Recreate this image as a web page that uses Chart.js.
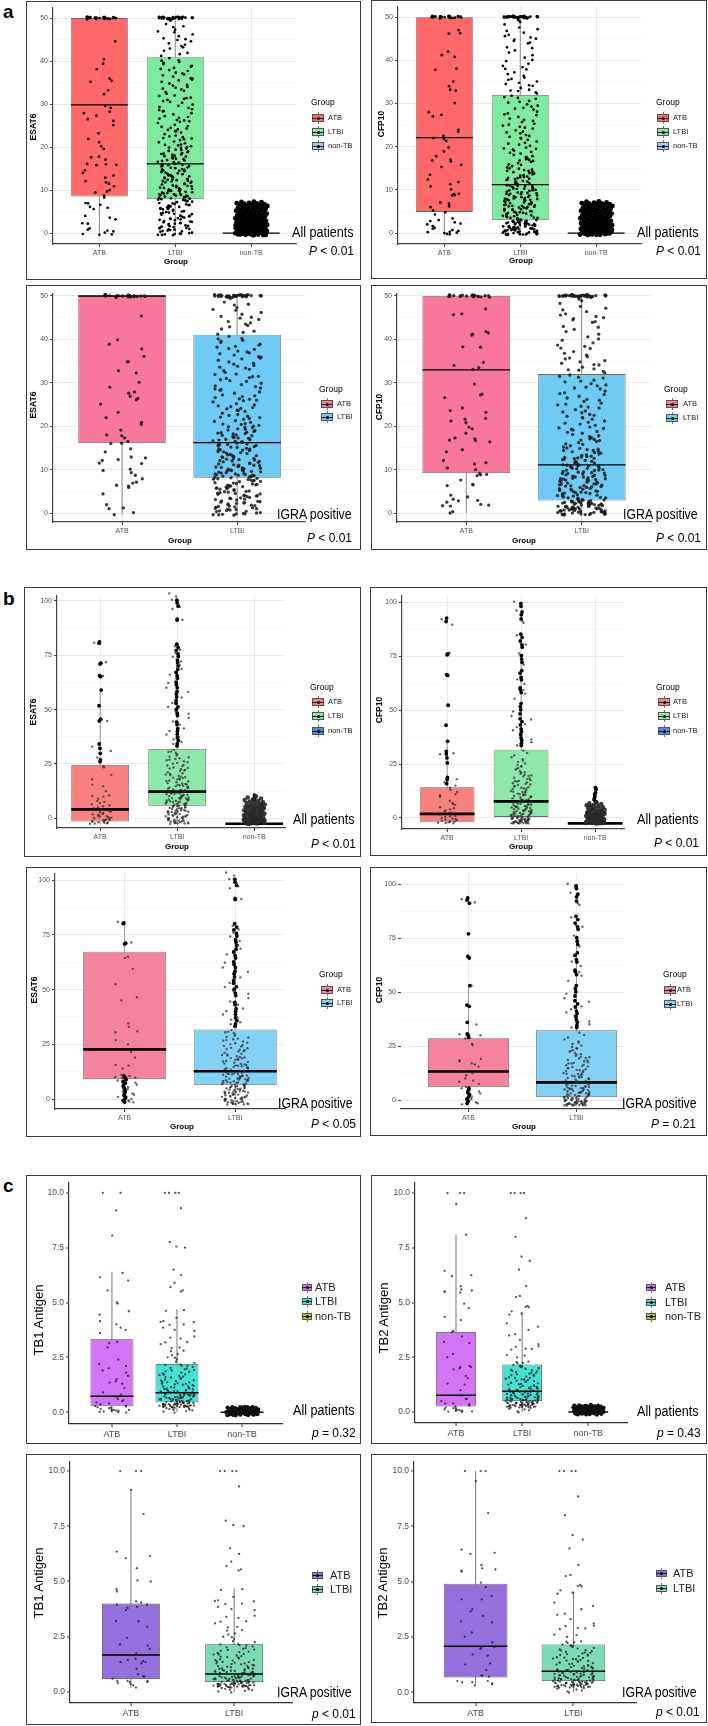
<!DOCTYPE html>
<html><head><meta charset="utf-8">
<script src="https://cdn.jsdelivr.net/npm/chart.js@4.4.1/dist/chart.umd.min.js"></script>
<style>
html,body{margin:0;padding:0;background:#fff;}
body{width:708px;height:1726px;position:relative;overflow:hidden;font-family:'Liberation Sans',Arial,sans-serif;}
.frame{position:absolute;border:1.5px solid #3c3c3c;box-sizing:border-box;pointer-events:none;}
canvas{position:absolute;}
.t{position:absolute;white-space:nowrap;line-height:1;color:#000;}
.key{position:absolute;}
</style></head><body>
<script>
// ---------------- categories & ticks ----------------
const CATS3 = ['ATB','LTBI','non-TB'];
const CATS2 = ['ATB','LTBI'];
const YA = [0,10,20,30,40,50], YAm = [5,15,25,35,45];
const YB = [0,25,50,75,100], YBm = [12.5,37.5,62.5,87.5];
const YC = [0,2.5,5,7.5,10], YCm = [];

// ---------------- box statistics (q1, median, q3, whisker low, whisker high) ----------------
const a1Q1=[8.5,7.9,0], a1Med=[29.8,16.1,0], a1Q3=[50,41,0], a1Lo=[-0.3,-0.4,0], a1Hi=[50,50,0];
const a2Q1=[4.9,3.0,0], a2Med=[22.1,11.2,0], a2Q3=[50,32,0], a2Lo=[-0.3,-0.4,0], a2Hi=[50,50,0];
const a3Q1=[16.1,8.1], a3Med=[50,16.2], a3Q3=[50,41.1], a3Lo=[-0.4,-0.5], a3Hi=[50,50];
const a4Q1=[9.2,2.9], a4Med=[33.0,11.1], a4Q3=[50,32.0], a4Lo=[0,-0.3], a4Hi=[50,50];
const b1Q1=[-1.5,5.8,-2.5], b1Med=[4.1,12.3,-2.5], b1Q3=[24.5,31.9,-2.5], b1Lo=[-2.5,-2.5,-2.5], b1Hi=[59,71,-2.5];
const b2Q1=[-2.0,0.5,-2.5], b2Med=[1.9,7.7,-2.5], b2Q3=[14.2,31.6,-2.5], b2Lo=[-2.5,-2.5,-2.5], b2Hi=[36,75,-2.5];
const b3Q1=[9.1,6.4], b3Med=[22.7,12.7], b3Q3=[67.3,31.8], b3Lo=[-1.5,-2.5], b3Hi=[80,71];
const b4Q1=[6.0,1.4], b4Med=[13.2,8.2], b4Q3=[28.6,32.3], b4Lo=[-2,-2.5], b4Hi=[53,75];
const c1Q1=[0.27,0.45,0], c1Med=[0.72,0.88,0], c1Q3=[3.33,2.2,0], c1Lo=[0,0,0], c1Hi=[6.4,4.7,0];
const c2Q1=[0.25,0.5,0], c2Med=[0.77,0.95,0], c2Q3=[3.66,2.17,0], c2Lo=[0,0,0], c2Hi=[8.1,4.52,0];
const c3Q1=[0.58,0.45], c3Med=[1.67,0.81], c3Q3=[4.0,2.16], c3Lo=[0.18,0], c3Hi=[9.15,4.7];
const c4Q1=[0.66,0.5], c4Med=[2.08,0.95], c4Q3=[4.9,2.16], c4Lo=[0.3,0], c4Hi=[10,4.55];

// ---------------- individual values (panel a, ESAT6 / CFP10) ----------------
const aEsatATBall=[50.2,49.9,50.1,50,49.8,50.3,50,50.1,49.9,50.2,50,49.7,50.1,50.2,49.9,50,50.3,49.8,50.1,50,49.9,50.2,50.1,49.8,50,50.2,44.6,40.4,39.4,38.1,35.9,35.4,35.2,33.2,32.3,29.6,29.1,28.2,27.9,27.3,26.5,26.1,25.1,23.2,21.9,21.1,20.2,19.6,17.8,17.6,17.1,16.1,16,15.9,15.8,14.6,14,13.4,12.9,12.1,11.8,11.5,10.9,10,9.7,9.4,8.7,8.3,7,6.9,6.6,6.1,5.9,5.6,4,3.6,3.2,2.3,2.2,1.1,0.8,0.6,0.4,0.1,-0.2,-0.3,-0.4];
const aEsatATBpos=[50.1,49.8,50.2,50,49.9,50.3,50,49.7,50.2,50.1,49.9,50,50.2,49.8,50.1,50,50.3,49.9,50.1,50,49.8,50.2,45.4,39.9,38.9,37.8,36.1,34.9,34.8,32.8,32.3,30.1,29,27.9,27.6,26.9,26.4,26.1,25.1,23.2,22,20.9,20.4,19.1,18,17.8,17.3,16.5,16.1,16,14.8,14.1,12.9,12.7,12.3,12.1,11.5,11.4,10.1,9.8,9.3,8.7,7.9,7.1,6.9,6.4,6.2,5.9,4.4,1.9,1.2,1,0.1,-0.4];
const aEsatLTBI=[50.3,50.0,49.8,50.2,50.1,49.9,50.0,50.3,49.7,50.1,50.2,49.9,50.0,49.8,50.2,50.1,50.0,49.9,50.3,50.1,49.8,50.0,50.2,49.9,50.1,50.0,49.7,50.2,50.1,49.9,50.0,50.3,49.8,50.1,50.0,50.2,
49.4,48.6,47.9,47.3,46.7,46.2,45.8,45.3,45.1,44.6,44.1,43.8,43.2,42.9,42.4,41.9,41.6,41.2,48.1,46.9,44.9,43.5,
40.7,40.2,39.8,39.3,38.9,38.4,38.2,37.7,37.3,36.9,36.4,36.0,35.7,35.2,34.8,34.5,34.0,33.6,33.1,32.8,32.4,31.9,31.5,31.2,30.7,30.3,29.9,29.6,29.1,28.8,28.3,27.9,27.6,27.2,26.8,26.3,26.0,25.6,25.2,24.9,24.5,24.1,23.7,23.4,23.0,22.7,22.3,22.0,21.6,21.3,20.9,20.6,20.2,19.9,19.7,19.4,19.1,18.8,18.6,18.3,18.0,17.8,17.5,17.3,17.0,16.8,16.5,16.3,16.0,15.8,15.6,15.3,15.1,14.9,14.6,14.4,14.2,13.9,13.7,13.5,13.3,13.0,12.8,12.6,12.4,12.2,12.0,11.7,11.5,11.3,11.1,10.9,10.7,10.5,10.3,10.1,9.9,9.7,9.5,9.4,9.2,9.0,8.8,8.7,8.5,8.3,8.2,8.0,
39.6,37.1,35.5,33.4,31.0,28.6,26.6,24.3,22.5,20.4,19.3,18.4,17.6,16.6,15.5,14.8,14.1,13.1,12.5,11.9,11.0,10.4,9.8,9.1,8.6,
7.9,7.7,7.6,7.4,7.2,7.0,6.8,6.7,6.5,6.3,6.1,5.9,5.8,5.6,5.4,5.2,5.0,4.8,4.7,4.5,4.3,4.1,3.9,3.8,3.6,3.4,3.2,3.0,2.8,2.7,2.5,2.3,2.1,1.9,1.8,1.6,1.4,1.2,1.0,0.9,0.7,0.5,0.3,0.1,0.0,-0.2,-0.4,-0.5,7.3,6.4,5.5,4.4,3.5,2.6,1.5,0.6,-0.1,7.8,6.0,4.0,2.2,0.8,-0.3,
38.7,36.7,34.3,32.0,30.5,29.3,27.0,25.9,24.7,23.6,22.1,21.1,20.5,19.8,19.0,18.5,17.9,17.2,16.9,16.4,16.1,15.7,15.2,14.7,14.3,13.8,13.4,12.9,12.3,11.8,11.4,11.0,10.6,10.2,9.9,9.6,9.3,9.0,8.7,8.4,8.1,
40.1,37.9,35.9,33.8,31.4,28.4,26.2,24.0,21.8,20.0,18.2,17.4,15.9,14.5,13.2,12.1,10.8,9.8,8.9,
7.5,6.9,6.2,5.7,5.1,4.6,4.0,3.3,2.4,1.7,1.1,0.4,-0.2,6.6,4.9,3.1,1.3,-0.4];
const aEsatNon=[7.32,7.24,7.18,7.05,6.98,6.91,6.84,6.73,6.66,6.58,6.47,6.41,6.33,6.22,6.17,6.05,5.98,5.86,5.81,5.72,5.63,5.55,5.44,5.39,5.27,5.21,5.12,5.03,4.94,4.88,4.79,4.68,4.61,4.53,4.44,4.37,4.26,4.19,4.11,4.02,3.95,3.86,3.78,3.71,3.62,3.55,3.47,3.38,3.31,3.23,3.16,3.08,3.01,2.94,2.87,2.79,2.72,2.66,2.58,2.51,2.45,2.37,2.31,2.24,2.17,2.11,2.04,1.97,1.91,1.84,1.78,1.71,1.65,1.58,1.52,1.46,1.39,1.33,1.27,1.21,1.14,1.08,1.02,0.96,0.9,0.84,0.78,0.72,0.66,0.61,0.55,0.49,0.44,0.38,0.33,0.27,0.22,0.16,0.11,0.06,0.01,-0.04,-0.09,-0.14,-0.19,-0.24,-0.29,-0.34,-0.39,-0.44,-0.49,2.9,2.3,1.7,1.2,0.8,0.4,0.05,-0.2,2.6,1.9,1.0,0.3,-0.35,1.5,0.6,-0.1,3.3,2.1,1.35,0.7,0.15,-0.3,4.2,2.8,1.8,0.9,0.2,-0.45];
const aCfpATBall=[50.1,49.8,50.2,50,49.9,50.3,50.1,49.7,50,50.2,49.9,50.1,50,50.3,49.8,50.2,50,49.9,50.1,50.2,49.8,50,50.1,49.9,50.2,47,46.3,46.2,42,41.2,40.8,38.1,37.8,35.1,34,33.2,33,30.1,28,27.4,27,23.9,23.5,22.5,22,21.8,21.3,19.8,18.9,17.8,17,16.8,16.6,15.8,15.3,13.5,12.4,11.8,11.3,10.8,10.1,9,9.1,8.8,8.7,7.1,6.8,6.2,6,5.2,4.8,4.3,3.4,3,2.8,2.5,2.2,2,1.6,1.2,1,0.7,0.5,0.3,0.2,0.1,0,-0.2,-0.3];
const aCfpATBpos=[50.1,49.9,50.2,50,49.8,50.3,50.1,49.9,50,50.2,49.7,50.1,50,50.2,49.9,50.1,50,49.8,50.2,50,50.1,49.9,47,45.9,45.7,41.8,41.5,41.2,41,38.3,38.2,34.7,34,33.5,33.1,29.7,27.4,27.2,26.6,24.2,23.6,23.2,21.8,21.6,21.2,20.8,19.8,19.4,18.4,17.3,17.1,16.8,16.7,16.4,14.6,14.1,12.1,11.6,11.3,10.4,10,9.1,8.9,8.8,8.6,7.6,6.6,6.5,6.3,4.1,3.7,3.2,2.9,2.8,2.5,2,1.8,1.7,1.6,0.3,0];
const aCfpLTBI=[50.2,49.9,50.1,50.0,49.8,50.3,50.1,49.9,50.0,50.2,49.7,50.1,50.0,50.3,49.8,50.2,50.0,49.9,50.1,50.2,49.8,50.0,50.1,49.9,50.2,50.0,50.3,49.8,50.1,50.0,49.9,50.2,50.1,49.7,50.0,50.2,49.9,50.1,
49.3,48.9,47.6,47.2,46.4,45.9,45.3,45.0,44.5,44.1,43.9,42.3,41.8,41.2,40.6,39.8,39.2,38.7,38.4,37.9,37.2,36.4,36.0,35.5,35.1,34.8,34.5,34.1,33.6,33.2,32.9,32.6,32.3,46.8,44.8,42.8,40.1,36.8,34.2,33.0,
31.8,31.5,31.1,30.6,30.2,29.8,29.5,29.0,28.6,28.1,27.7,27.3,26.9,26.5,26.2,25.7,25.3,24.9,24.6,24.2,23.8,23.5,23.1,22.7,22.3,22.0,21.6,21.2,20.9,20.5,20.2,19.8,19.5,19.1,18.8,18.4,18.1,17.8,17.4,17.1,16.8,16.5,16.2,15.8,15.5,15.2,
14.9,14.6,14.4,14.1,13.8,13.6,13.3,13.1,12.8,12.6,12.3,12.1,11.9,11.6,11.4,11.2,11.0,10.8,10.6,10.4,10.2,10.0,9.8,9.6,9.4,9.2,9.0,8.8,8.7,8.5,8.3,8.1,7.9,7.8,7.6,7.4,7.2,7.1,6.9,6.7,6.5,6.4,6.2,6.0,5.9,5.7,5.5,5.4,5.2,5.0,4.9,4.7,4.5,4.4,4.2,4.0,3.9,3.7,3.5,3.4,3.2,3.0,
14.2,13.0,11.8,10.9,9.9,9.1,8.4,7.7,7.0,6.3,5.6,4.8,4.1,3.6,12.5,10.3,8.0,6.6,5.3,
2.9,2.7,2.85,2.6,2.45,2.5,2.3,2.35,2.1,2.2,1.95,2.0,1.8,1.85,1.6,1.7,1.45,1.5,1.3,1.35,1.1,1.2,0.95,1.0,0.8,0.85,0.6,0.7,0.45,0.5,0.3,0.35,0.1,0.2,-0.05,0.0,-0.2,-0.15,-0.35,-0.3,-0.45,2.75,2.15,1.55,0.9,0.25,-0.25,2.4,1.25,0.15,-0.4,
31.3,30.4,28.8,27.5,26.0,24.4,23.3,21.9,20.7,19.6,18.6,17.6,16.7,15.9,15.0,14.4,13.9,13.4,12.9,12.4,11.9,11.5,11.1,10.7,10.3,9.9,9.5,9.1,8.7,8.3,7.9,7.5,7.1,6.7,6.3,5.9,5.5,5.1,4.7,4.3,3.9,3.5,3.1,
29.3,25.1,22.5,19.3,17.0,14.7,12.7,10.9,9.3,7.7,6.1,4.6,
2.95,2.55,2.15,1.75,1.35,0.95,0.55,0.15,-0.25,2.65,2.25,1.65,1.05,0.45,-0.1,-0.35,1.9,0.7,
48.3,45.6,43.0,38.0,35.7];
const aCfpNon=[7.35,7.26,7.13,7.07,6.95,6.88,6.79,6.71,6.62,6.54,6.46,6.37,6.29,6.2,6.12,6.03,5.95,5.87,5.78,5.7,5.61,5.53,5.45,5.36,5.28,5.19,5.11,5.02,4.94,4.86,4.77,4.69,4.6,4.52,4.43,4.35,4.27,4.18,4.1,4.01,3.93,3.85,3.76,3.68,3.59,3.51,3.43,3.34,3.26,3.17,3.09,3.01,2.93,2.86,2.78,2.71,2.63,2.56,2.48,2.41,2.34,2.26,2.19,2.12,2.05,1.97,1.9,1.83,1.76,1.69,1.62,1.55,1.48,1.41,1.34,1.27,1.2,1.14,1.07,1.0,0.94,0.87,0.81,0.74,0.68,0.61,0.55,0.49,0.43,0.37,0.31,0.25,0.19,0.13,0.07,0.01,-0.05,-0.11,-0.17,-0.23,-0.29,-0.35,-0.41,-0.47,2.5,1.6,0.9,0.2,-0.3,2.0,1.1,0.45,-0.15,3.2,2.2,1.4,0.6,0.0,-0.4,4.4,3.0,1.8,0.8,0.1,-0.25];

// ---------------- panel b (ESAT6 / CFP10) ----------------
const bEsatATBall=[80.8,71.8,65.5,45.5,44.8,33.0,31.0,28.0,24.0,23.5,20.0,18.0,15.5,14.8,12.5,10.5,10.3,10.0,9.0,8.0,7.5,6.5,6.0,5.0,4.5,3.5,3.0,2.5,2.0,1.5,1.0,0.5,0.0,-0.5,-1.0,-1.5,-2.0,-2.3,-2.5,-1.8,-1.2,-0.8,-0.2,0.8,1.8,2.8,4.0,5.5,7.0,-2.4,-2.1,-1.6,-0.9,0.3,1.2];
const bEsatATBallCtr=[81.2,80.6,71.4,71.0,65.6,65.2,59.0,51.8,45.6,44.8,34.2,32.2,29.9,26.9,26.1];
const bEsatATBpos=[81.0,71.5,65.0,64.5,59.5,52.5,46.5,45.0,34.5,33.0,31.0,30.5,27.0,25.0,21.5,19.0,15.5,15.3,14.0,11.0,10.5,10.0,9.8,9.5,8.5,7.5,6.5,5.5,4.5,3.5,2.5,2.0,1.0,0.0,-0.5,-1.0,-1.5];
const bEsatATBposCtr=[80.5,80.2,71.2,70.9,10.6,9.7,8.9,8.1,7.3,6.5,5.7,4.9,4.1,3.3,2.5,1.7,0.9,0.1,-0.7,-1.4];
const bEsatLTBI=[103.5,102.1,100.6,98.4,97.2,96.3,92.1,91.4,79.2,77.6,76.1,74.3,72.2,70.4,68.7,66.1,64.2,62.3,60.1,58.2,55.6,53.1,51.2,49.4,48.1,46.2,44.6,43.1,41.4,40.2,38.6,37.4,36.3,35.1,34.2,33.0,
31.5,30.8,30.2,29.5,28.9,28.1,27.6,27.0,26.3,25.8,25.1,24.6,24.0,23.4,22.9,22.3,21.8,21.2,20.7,20.1,19.6,19.2,18.7,18.3,17.9,17.4,17.0,16.6,16.2,15.8,15.4,15.0,14.7,14.3,14.0,13.6,13.3,12.9,12.6,12.3,12.0,11.7,11.4,11.1,10.8,10.5,10.2,9.9,9.6,9.4,9.1,8.8,8.6,8.3,8.1,7.8,7.6,7.3,7.1,6.8,6.6,6.3,6.1,5.9,25.5,22.6,20.4,18.0,16.0,14.5,13.0,11.9,10.7,9.5,8.5,7.5,6.7,
5.6,5.3,5.0,4.7,4.4,4.1,3.8,3.5,3.2,2.9,2.6,2.3,2.0,1.7,1.4,1.1,0.8,0.5,0.2,-0.1,-0.4,-0.7,-1.0,-1.3,-1.6,-1.9,-2.2,-2.5,5.2,4.3,3.4,2.5,1.6,0.7,-0.2,-1.1,-2.0,-2.4,4.8,3.0,1.2,-0.6,-1.8,-2.3,
30.5,28.4,26.7,24.3,22.0,19.9,18.5,17.2,15.6,14.1,12.8,11.5,10.4,9.3,8.2,7.4,6.4,5.5,4.6,3.7,2.8,1.9,1.0,0.1,-0.8,-1.5,-2.1,27.3,23.2,19.0,15.2,11.3,8.9,6.0,3.3,0.4,-1.3,-2.4];
const bEsatLTBICtr=[100.4,99.1,97.6,91.5,91.2,80.1,78.6,77.3,75.7,74.5,72.8,71.6,70.1,68.5,67.2,65.6,64.4,62.7,61.5,60.1,58.4,57.2,55.8,54.2,52.9,51.3,50.1,48.4,47.3,44.2,43.1,41.3,40.1,38.7,37.1,35.9,34.3,33.3];
const bEsatNon=[10.2,9.6,9.1,8.7,8.4,8.1,7.8,7.5,7.3,7.0,6.8,6.6,6.3,6.1,5.9,5.7,5.5,5.3,5.1,4.9,4.7,4.5,4.3,4.1,3.9,3.7,3.5,3.3,3.1,2.9,2.7,2.5,2.3,2.1,1.9,1.7,1.5,1.3,1.1,0.9,0.7,0.5,0.3,0.1,-0.1,-0.3,-0.5,-0.7,-0.9,-1.1,-1.3,-1.5,-1.7,-1.9,-2.1,-2.3,-2.5,0.6,-0.4,-1.4,-2.4,1.6,-0.8,-1.8,-2.2,2.6,0.2,-1.0,-2.0,-2.5,3.6,1.0,-0.2,-1.6,-2.4,4.6,-1.2,-2.3,5.4,3.2,1.4,-0.6,-2.1,6.4,4.2,2.2,0.0,-1.5];
const bEsatNonCtr=[10.6,9.9,9.3,8.8,8.3];
const bCfpATBall=[92.0,89.5,76.5,66.5,30.0,29.5,18.0,16.5,14.0,13.0,12.0,10.5,9.8,8.0,7.0,6.0,5.0,4.0,3.5,3.0,2.0,1.5,1.0,0.5,0.0,-0.5,-1.0,-1.5,-2.0,-2.3,-2.5,-1.8,-1.2,-0.3,0.8,2.5,4.5,6.5,-2.2,-0.7,1.8,11.0,15.0];
const bCfpATBallCtr=[92.6,91.0,76.0,75.6,66.4,66.0,52.2,43.0,35.5,30.8,29.6,27.8,25.5,18.8,17.7,15.9];
const bCfpATBpos=[93.0,91.5,53.0,44.0,35.0,30.5,30.0,28.5,26.0,25.5,19.0,18.5,18.0,17.0,16.5,15.5,13.0,12.5,11.5,10.0,9.0,8.5,7.5,6.0,5.5,4.0,3.0,1.5,0.5,-0.5,-1.0,-1.5,-2.0];
const bCfpATBposCtr=[93.6,92.6,91.2,77.0,66.6,65.8,53.0,44.0,43.4,36.0,30.6,30.0,29.0,5.5,4.5,3.5,2.5,1.5,0.5,-0.5,-1.5];
const bCfpLTBI=[100.2,98.6,96.1,91.2,90.4,84.6,81.1,80.3,76.2,71.1,67.4,64.2,62.1,59.3,57.6,55.2,52.1,49.3,47.2,45.6,43.4,42.1,40.6,39.2,36.4,35.1,33.6,
31.2,30.1,29.0,28.1,27.2,26.0,25.3,24.6,23.9,23.1,22.4,21.8,21.1,20.5,19.8,19.2,18.6,18.0,17.5,16.9,16.4,15.8,15.3,14.8,14.3,13.8,13.4,12.9,12.5,12.1,11.7,11.3,10.9,10.5,10.2,9.8,9.5,9.1,8.8,8.5,8.2,7.9,7.6,7.3,7.0,6.7,6.4,6.2,5.9,5.6,5.4,5.1,4.9,4.6,4.4,4.1,3.9,3.7,3.4,3.2,3.0,2.8,2.5,2.3,2.1,1.9,1.7,1.5,1.3,1.1,0.9,0.7,0.5,
24.0,20.0,17.0,14.0,12.0,10.0,8.0,6.5,5.0,3.5,2.0,0.8,
0.3,0.1,-0.1,-0.3,-0.5,-0.7,-0.9,-1.1,-1.3,-1.5,-1.7,-1.9,-2.1,-2.3,-2.5,0.2,-0.4,-0.8,-1.2,-1.6,-2.0,-2.4,0.0,-0.6,-1.4,-2.2,-2.5,-1.0,-1.8,-2.45,
22.8,19.5,17.2,15.5,13.6,12.2,11.0,9.7,8.6,7.4,6.1,5.2,4.3,3.5,2.6,1.8,1.0,0.4,-0.2,-0.9,-1.5,-2.0,-2.4,18.3,14.6,10.7,8.0,5.5,3.1,1.4,-0.5,-1.7,-2.3,26.5,21.2,16.1];
const bCfpLTBICtr=[99.2,98.0,95.4,94.1,92.2,85.1,83.6,82.0,80.2,79.1,75.2,73.6,72.1,68.2,67.0,65.1,64.0,60.2,59.4,58.1,53.0,51.6,50.1,48.2,46.0,44.6,43.1,41.2,40.0,38.6,37.1,36.0,34.6,33.6];
const bCfpNon=[7.1,6.8,6.5,6.2,5.9,5.6,5.3,5.0,4.8,4.5,4.2,4.0,3.7,3.5,3.2,3.0,2.8,2.5,2.3,2.1,1.9,1.7,1.5,1.3,1.1,0.9,0.7,0.5,0.3,0.1,-0.1,-0.3,-0.5,-0.7,-0.9,-1.1,-1.3,-1.5,-1.7,-1.9,-2.1,-2.3,-2.5,0.6,-0.4,-1.4,-2.4,1.6,-0.8,-1.8,-2.2,2.6,0.2,-1.0,-2.0,-2.5,3.6,1.0,-0.2,-1.6,-2.4,-1.2,-2.3,0.4,-0.6,-2.45,4.4,2.0,-0.9,5.2,3.3,1.2,-1.9];
const bCfpNonCtr=[14.1,13.3,11.8,10.9,10.0,9.2,8.4,7.6];

// ---------------- panel c (TB1 / TB2 antigen) ----------------
const cTb1ATBall=[10,10,9.2,8.05,6.35,6.15,6.0,5.55,5.0,4.95,4.6,4.45,4.15,4.0,3.85,3.75,3.6,3.2,3.15,2.95,2.4,2.2,2.1,2.0,1.9,1.8,1.65,1.5,1.4,1.35,1.3,1.1,0.9,0.8,0.7,0.6,0.55,0.5,0.45,0.4,0.35,0.3,0.25,0.2,0.15,0.12,0.1,0.08,0.05,0.03,0.0,0.02,0.06,0.1,0.18,0.22,0.28,-0.02];
const cTb1ATBpos=[10,10,10,9.15,8.05,6.35,6.15,6.05,5.6,5.05,5.0,4.65,4.55,4.1,4.05,3.95,3.95,3.85,3.8,3.7,3.2,3.2,2.95,2.45,2.15,2.1,1.95,1.75,1.5,1.45,1.4,1.35,1.35,1.3,1.05,0.8,0.7,0.7,0.6,0.5,0.5,0.5,0.45,0.45,0.4,0.35,0.3,0.2];
const cTb1LTBI=[10,10,10,10,9.3,7.75,7.55,7.5,6.5,6.25,5.9,5.7,5.55,5.5,4.65,4.62,4.3,4.15,4.12,4.1,4.0,3.98,3.85,3.75,3.7,3.45,3.4,3.35,3.2,3.18,3.1,2.95,2.92,2.8,2.78,2.65,2.6,2.5,2.48,2.4,2.3,2.25,
2.18,2.15,2.1,2.06,2.02,1.98,1.95,1.9,1.87,1.83,1.8,1.76,1.72,1.69,1.65,1.62,1.58,1.55,1.52,1.48,1.45,1.42,1.38,1.35,1.32,1.29,1.26,1.23,1.2,1.17,1.14,1.11,1.08,1.05,1.02,0.99,0.97,0.94,0.91,0.89,0.86,0.84,0.81,0.79,0.77,0.74,0.72,0.7,0.68,0.66,0.64,0.62,0.6,0.58,0.56,0.54,0.52,0.5,0.48,0.47,0.46,
0.95,0.85,0.75,0.65,0.55,0.5,1.25,1.05,0.9,0.8,0.7,0.6,
0.44,0.43,0.42,0.41,0.4,0.39,0.38,0.37,0.36,0.35,0.34,0.33,0.32,0.31,0.3,0.29,0.28,0.27,0.26,0.25,0.24,0.23,0.22,0.21,0.2,0.18,0.16,0.14,0.12,0.1,0.08,0.05,0.02,-0.02,0.42,0.38,0.34,0.3,0.26,0.22,
2.12,1.92,1.74,1.6,1.44,1.3,1.18,1.07,0.98,0.92,0.87,0.82,0.78,0.73,0.69,0.65,0.61,0.57,0.53,0.49,0.45,0.41,0.37,0.33,0.29,0.25,1.7,1.36,1.12,0.96,0.88,0.76,0.67,0.59,0.51,0.43,0.35,0.31,0.27,0.23];
const cTb1Non=[0.25,0.24,0.23,0.22,0.21,0.2,0.19,0.18,0.17,0.16,0.15,0.14,0.13,0.12,0.11,0.1,0.09,0.08,0.07,0.06,0.05,0.04,0.03,0.02,0.01,0.0,-0.01,-0.02,-0.03,-0.04,-0.05,-0.06,-0.07,-0.08,-0.09,-0.1,-0.11,-0.12,-0.13,-0.14,-0.15,0.2,0.16,0.12,0.08,0.04,0.0,-0.04,-0.08,-0.12,0.22,0.14,0.06,-0.02,-0.1,0.18,0.1,0.02,-0.06,-0.14,0.23,0.15,0.07,-0.01,-0.09,0.19,0.11,0.03,-0.05,-0.13];
const cTb2ATBall=[10,10,10,9.5,8.1,6.45,6.25,6.2,5.75,5.6,5.55,5.5,5.5,5.45,4.95,4.75,4.35,4.2,3.7,3.65,3.45,3.2,3.15,2.65,2.5,2.1,2.05,2.05,2.0,1.95,1.65,1.55,1.3,1.25,1.0,0.75,0.6,0.6,0.5,0.4,0.4,0.35,0.3,0.25,0.2,0.15,0.1,0.08,0.05,0.02,0.0,0.12,0.06,0.03,0.18];
const cTb2ATBpos=[10,10,10,9.55,8.1,6.45,6.3,6.25,5.75,5.6,5.55,5.5,5.45,4.95,4.75,4.35,4.2,4.2,3.75,3.65,3.45,3.2,3.15,2.7,2.5,2.25,2.05,2.0,1.95,1.7,1.65,1.3,1.25,1.0,0.75,0.75,0.7,0.5,0.5,0.45,0.45,0.4,0.35,0.3];
const cTb2LTBI=[10,10,10,10,8.85,8.0,7.1,6.9,6.5,5.75,5.3,5.25,4.85,4.8,4.78,4.6,4.5,4.45,4.05,3.9,3.75,3.55,3.5,3.3,3.1,3.0,2.98,2.9,2.88,2.85,2.6,2.58,2.5,2.3,2.28,2.25,2.22,
2.15,2.12,2.08,2.04,2.0,1.97,1.93,1.9,1.86,1.82,1.79,1.75,1.72,1.68,1.65,1.62,1.58,1.55,1.52,1.49,1.46,1.43,1.4,1.37,1.34,1.31,1.28,1.25,1.22,1.19,1.16,1.13,1.1,1.07,1.04,1.01,0.98,0.96,0.93,0.9,0.88,0.85,0.83,0.8,0.78,0.76,0.73,0.71,0.69,0.67,0.65,0.63,0.61,0.59,0.57,0.55,0.53,0.52,0.51,
1.5,1.2,1.0,0.9,0.8,0.7,0.6,0.55,
0.49,0.48,0.47,0.46,0.45,0.44,0.43,0.42,0.41,0.4,0.39,0.38,0.37,0.36,0.35,0.34,0.33,0.32,0.31,0.3,0.29,0.28,0.27,0.26,0.25,0.24,0.23,0.22,0.2,0.18,0.15,0.12,0.08,0.03,-0.02,
2.1,1.88,1.7,1.56,1.41,1.27,1.15,1.05,0.97,0.91,0.86,0.81,0.77,0.72,0.68,0.64,0.6,0.56,0.52,0.48,0.44,0.4,0.36,0.32,0.28,0.24,1.78,1.33,1.09,0.94,0.84,0.74,0.66,0.58,0.5,0.42,0.34,0.3,0.26,0.21];
const cTb2Non=[0.33,0.31,0.3,0.29,0.28,0.27,0.26,0.25,0.24,0.23,0.22,0.21,0.2,0.19,0.18,0.17,0.16,0.15,0.14,0.13,0.12,0.11,0.1,0.09,0.08,0.07,0.06,0.05,0.04,0.03,0.02,0.01,0.0,-0.01,-0.02,-0.03,-0.04,-0.05,-0.06,-0.07,-0.08,-0.09,-0.1,-0.11,-0.12,0.28,0.22,0.16,0.1,0.04,-0.02,-0.08,0.25,0.13,0.01,-0.05,0.19,0.07,-0.11,0.3,0.2,0.14,0.05,-0.03,-0.09,0.24,0.17,0.09,0.0,-0.07];

// ---------------- styles ----------------
const COL_A=['#FF6868','#7EEA9F','#A6C6F5'], COL_A2=['#F7789C','#6FCBF3'];
const COL_B=['#F8817F','#8FE8AB','#4F86EE'], COL_B2=['#F5839F','#83D1F5'];
const COL_C=['#D374F4','#44E2D2','#BCC61A'], COL_C2=['#9370DB','#7ADBB5'];

const SA={grid:true,gridMajor:'#e3e3e3',gridMinor:'#f1f1f1',gridW:0.8,axis:'#444',axisW:1.2,tickW:1,tickColor:'#555',yfs:7,xfs:7,tickPad:2,yw:25,xh:14,boxBorder:'#6a6a6a',boxBW:0.8,medW:1.3,whisker:'#8a8a8a',whiskerW:1,pr:1.35,pc:'#000',prNon:2.4,pcNon:'#000'};
const SA2=Object.assign({},SA,{pr:1.65,pc:'rgba(25,25,25,0.85)'});
const SB=Object.assign({},SA,{medW:2.6,whisker:'#999',pr:1.2,pc:'rgba(45,45,45,0.72)',prNon:2.2,pcNon:'rgba(40,40,40,0.92)',ctrR:1.9,ctrC:'#000'});
const SC={grid:false,gridMajor:'rgba(0,0,0,0)',gridMinor:'rgba(0,0,0,0)',gridW:0,axis:'#333',axisW:1.2,tickW:1,tickColor:'#4d4d4d',yfs:8.5,xfs:9,tickPad:2,yw:30,xh:14,boxBorder:'#444',boxBW:0.8,medW:1.5,whisker:'#777',whiskerW:1,pr:1.15,pc:'rgba(25,25,25,0.75)',prNon:2.0,pcNon:'#111'};

const fmtInt=v=>String(v), fmt1=v=>v.toFixed(1);

const PANELS=[
 {box:[26,1,361,280],plot:[53,5,296,244],y:[-2.53,52.53],x:[-0.61,2.59],s:SA,cats:CATS3,colors:COL_A,q1:a1Q1,med:a1Med,q3:a1Q3,lo:a1Lo,hi:a1Hi,pts:[aEsatATBall,aEsatLTBI,aEsatNon],bw:0.75,jw:0.23,yMajor:YA,yMinor:YAm,yFmt:fmtInt},
 {box:[371,0,707,279],plot:[398,5,641,244],y:[-2.53,52.53],x:[-0.61,2.59],s:SA,cats:CATS3,colors:COL_A,q1:a2Q1,med:a2Med,q3:a2Q3,lo:a2Lo,hi:a2Hi,pts:[aCfpATBall,aCfpLTBI,aCfpNon],bw:0.75,jw:0.23,yMajor:YA,yMinor:YAm,yFmt:fmtInt},
 {box:[26,285,361,550],plot:[53,294,305,522],y:[-2.07,50.46],x:[-0.6,1.59],s:SA2,cats:CATS2,colors:COL_A2,q1:a3Q1,med:a3Med,q3:a3Q3,lo:a3Lo,hi:a3Hi,pts:[aEsatATBpos,aEsatLTBI],bw:0.76,jw:0.21,yMajor:YA,yMinor:YAm,yFmt:fmtInt},
 {box:[371,285,707,550],plot:[397,294,651,522],y:[-2.07,50.46],x:[-0.6,1.6],s:SA2,cats:CATS2,colors:COL_A2,q1:a4Q1,med:a4Med,q3:a4Q3,lo:a4Lo,hi:a4Hi,pts:[aCfpATBpos,aCfpLTBI],bw:0.76,jw:0.21,yMajor:YA,yMinor:YAm,yFmt:fmtInt},
 {box:[24,587,361,857],plot:[57,596,285,828],y:[-4.46,102.3],x:[-0.56,2.4],s:SB,cats:CATS3,colors:COL_B,q1:b1Q1,med:b1Med,q3:b1Q3,lo:b1Lo,hi:b1Hi,pts:[bEsatATBall,bEsatLTBI,bEsatNon],ctr:[bEsatATBallCtr,bEsatLTBICtr,bEsatNonCtr],bw:0.75,jw:0.15,yMajor:YB,yMinor:YBm,yFmt:fmtInt},
 {box:[370,587,707,856],plot:[402,596,624,829],y:[-5.1,102.8],x:[-0.61,2.39],s:SB,cats:CATS3,colors:COL_B,q1:b2Q1,med:b2Med,q3:b2Q3,lo:b2Lo,hi:b2Hi,pts:[bCfpATBall,bCfpLTBI,bCfpNon],ctr:[bCfpATBallCtr,bCfpLTBICtr,bCfpNonCtr],bw:0.74,jw:0.14,yMajor:YB,yMinor:YBm,yFmt:fmtInt},
 {box:[26,867,361,1137],plot:[55,872,285,1109],y:[-4.55,103.2],x:[-0.63,1.45],s:SB,cats:CATS2,colors:COL_B2,q1:b3Q1,med:b3Med,q3:b3Q3,lo:b3Lo,hi:b3Hi,pts:[bEsatATBpos,bEsatLTBI],ctr:[bEsatATBposCtr,bEsatLTBICtr],bw:0.75,jw:0.12,yMajor:YB,yMinor:YBm,yFmt:fmtInt},
 {box:[370,867,707,1136],plot:[401,872,624,1109],y:[-4.15,105.1],x:[-0.625,1.44],s:SB,cats:CATS2,colors:COL_B2,q1:b4Q1,med:b4Med,q3:b4Q3,lo:b4Lo,hi:b4Hi,pts:[bCfpATBpos,bCfpLTBI],ctr:[bCfpATBposCtr,bCfpLTBICtr],bw:0.75,jw:0.12,yMajor:YB,yMinor:YBm,yFmt:fmtInt,noYLine:true},
 {box:[26,1175,361,1444],plot:[69,1178,283,1424],y:[-0.54,10.49],x:[-0.66,2.63],s:SC,cats:CATS3,colors:COL_C,q1:c1Q1,med:c1Med,q3:c1Q3,lo:c1Lo,hi:c1Hi,pts:[cTb1ATBall,cTb1LTBI,cTb1Non],bw:0.66,jw:0.27,yMajor:YC,yMinor:YCm,yFmt:fmt1},
 {box:[371,1175,707,1444],plot:[415,1180,628,1423],y:[-0.5,10.5],x:[-0.62,2.6],s:SC,cats:CATS3,colors:COL_C,q1:c2Q1,med:c2Med,q3:c2Q3,lo:c2Lo,hi:c2Hi,pts:[cTb2ATBall,cTb2LTBI,cTb2Non],bw:0.6,jw:0.25,yMajor:YC,yMinor:YCm,yFmt:fmt1},
 {box:[26,1454,361,1725],plot:[70,1460,293,1703],y:[-0.5,10.45],x:[-0.59,1.57],s:SC,cats:CATS2,colors:COL_C2,q1:c3Q1,med:c3Med,q3:c3Q3,lo:c3Lo,hi:c3Hi,pts:[cTb1ATBpos,cTb1LTBI],bw:0.56,jw:0.2,yMajor:YC,yMinor:YCm,yFmt:fmt1},
 {box:[371,1454,707,1723],plot:[414,1459,637,1703],y:[-0.49,10.45],x:[-0.63,1.65],s:SC,cats:CATS2,colors:COL_C2,q1:c4Q1,med:c4Med,q3:c4Q3,lo:c4Lo,hi:c4Hi,pts:[cTb2ATBpos,cTb2LTBI],bw:0.65,jw:0.21,yMajor:YC,yMinor:YCm,yFmt:fmt1}
];

Chart.defaults.font.family="'Liberation Sans', Arial, sans-serif";

// deterministic horizontal jitter in [-1,1] from the point index (hash, no Math.random)
function jit(j,g){
  let h=Math.imul(j+1,0x9E3779B1)^Math.imul(g+7,0x85EBCA77);
  h^=h>>>15; h=Math.imul(h,0x2C1B3C6D); h^=h>>>12; h=Math.imul(h,0x297A2D39); h^=h>>>15;
  return ((h>>>0)%20000)/10000-1;
}
// evenly spread jitter for the very dense non-TB band
function jitDense(j,g){const f=(j*0.6180339887+g*0.2913)%1;return f*2-1;}

function buildPanel(P){
  const S=P.s;
  const [L,T,R,B]=P.box,[x0,y0,x1,y1]=P.plot;
  const W=R-L,H=B-T;
  const cv=document.createElement('canvas');
  cv.width=W;cv.height=H;
  cv.style.left=L+'px';cv.style.top=T+'px';cv.style.width=W+'px';cv.style.height=H+'px';
  document.body.appendChild(cv);
  const n=P.cats.length;
  const wh=[],md=[],pts=[],prs=[],pcs=[],ctr=[];
  for(let i=0;i<n;i++){
    if(P.hi[i]!==P.lo[i]) wh.push({x:i,y:P.lo[i]},{x:i,y:P.hi[i]},{x:i,y:null});
    md.push({x:i-P.bw/2,y:P.med[i]},{x:i+P.bw/2,y:P.med[i]},{x:i,y:null});
  }
  P.pts.forEach((arr,g)=>{const non=P.cats[g]==='non-TB';const w=non?P.jw*0.93:P.jw;arr.forEach((v,j)=>{pts.push({x:g+(non?jitDense(j,g):jit(j,g))*w,y:v});prs.push(non?S.prNon:S.pr);pcs.push(non?S.pcNon:S.pc);});});
  if(P.ctr) P.ctr.forEach((arr,g)=>{arr.forEach((v,j)=>ctr.push({x:g+jit(j,g+11)*0.015,y:v}));});
  const isMaj=v=>P.yMajor.some(m=>Math.abs(m-v)<1e-9);
  const yt=P.yMajor.concat(P.yMinor).sort((a,b)=>a-b);
  new Chart(cv,{
    type:'bar',
    data:{datasets:[
      {type:'line',data:wh,borderColor:S.whisker,borderWidth:S.whiskerW,pointRadius:0,spanGaps:false,fill:false,order:4},
      {type:'bar',data:P.cats.map((c,i)=>({x:i,y:[P.q1[i],P.q3[i]]})),backgroundColor:P.colors.slice(0,n),borderColor:S.boxBorder,borderWidth:S.boxBW,borderSkipped:false,barPercentage:P.bw,categoryPercentage:1,order:3},
      {type:'line',data:md,borderColor:'#000',borderWidth:S.medW,pointRadius:0,spanGaps:false,fill:false,borderCapStyle:'butt',order:2},
      {type:'scatter',data:ctr,pointRadius:S.ctrR||1.8,pointBackgroundColor:S.ctrC||'#000',pointBorderWidth:0,clip:false,order:1},
      {type:'scatter',data:pts,pointRadius:prs,pointBackgroundColor:pcs,pointBorderWidth:0,clip:false,order:0}
    ]},
    options:{
      responsive:false,animation:false,devicePixelRatio:1,events:[],
      layout:{autoPadding:false,padding:{left:x0-L-S.yw,top:y0-T,right:R-x1,bottom:B-y1-S.xh}},
      plugins:{legend:{display:false},tooltip:{enabled:false}},
      scales:{
        x:{type:'linear',min:P.x[0],max:P.x[1],offset:false,
          afterFit:s=>{s.height=S.xh;},
          afterBuildTicks:s=>{s.ticks=P.cats.map((c,i)=>({value:i}));},
          ticks:{callback:v=>P.cats[Math.round(v)]||'',font:{size:S.xfs},color:S.tickColor,padding:S.tickPad,autoSkip:false,maxRotation:0,minRotation:0},
          grid:{offset:false,drawOnChartArea:S.grid,color:S.gridMajor,lineWidth:S.gridW,drawTicks:true,tickLength:3,tickColor:S.axis,tickWidth:S.tickW},
          border:{display:true,color:S.axis,width:S.axisW}},
        y:{type:'linear',min:P.y[0],max:P.y[1],
          afterFit:s=>{s.width=S.yw;},
          afterBuildTicks:s=>{s.ticks=yt.map(v=>({value:v}));},
          ticks:{callback:v=>isMaj(v)?P.yFmt(v):'',font:{size:S.yfs},color:S.tickColor,padding:S.tickPad,autoSkip:false},
          grid:{drawOnChartArea:S.grid,color:c=>(c.tick&&isMaj(c.tick.value))?S.gridMajor:S.gridMinor,lineWidth:c=>(c.tick&&isMaj(c.tick.value))?S.gridW:S.gridW*0.6,drawTicks:true,tickLength:3,tickColor:c=>(c.tick&&isMaj(c.tick.value))?S.axis:'rgba(0,0,0,0)',tickWidth:S.tickW},
          border:{display:!P.noYLine,color:S.axis,width:S.axisW}}
      }
    }
  });
  const fr=document.createElement('div');fr.className='frame';
  fr.style.left=L+'px';fr.style.top=T+'px';fr.style.width=W+'px';fr.style.height=H+'px';
  document.body.appendChild(fr);
}
PANELS.forEach(buildPanel);

// ---------------- text & legends ----------------
function txt(html,x,base,fs,o){o=o||{};const d=document.createElement('div');d.className='t';d.style.left=x+'px';d.style.top=(base-0.8465*fs)+'px';d.style.fontSize=fs+'px';if(o.b)d.style.fontWeight='bold';if(o.c)d.style.color=o.c;let tf='';if(o.center)tf+='translateX(-50%) ';if(o.sx)tf+='scaleX('+o.sx+')';if(tf){d.style.transform=tf;d.style.transformOrigin=o.center?'center':'left';}d.innerHTML=html;document.body.appendChild(d);}
function vtxt(html,cx,cy,fs,o){o=o||{};const d=document.createElement('div');d.className='t';d.style.left=cx+'px';d.style.top=cy+'px';d.style.fontSize=fs+'px';if(o.b)d.style.fontWeight='bold';d.style.transform='translate(-50%,-50%) rotate(-90deg)';d.innerHTML=html;document.body.appendChild(d);}
function key(x,cy,w,h,color){const c=document.createElement('div');c.className='key';c.style.left=x+'px';c.style.top=(cy-h/2-2)+'px';c.style.width=w+'px';c.style.height=(h+4)+'px';
 c.innerHTML='<div style="position:absolute;left:'+(w/2-0.5)+'px;top:0;width:1px;height:'+(h+4)+'px;background:#777"></div>'+
 '<div style="position:absolute;left:0;top:2px;width:'+w+'px;height:'+h+'px;box-sizing:border-box;border:1px solid #555;background:'+color+'"></div>'+
 '<div style="position:absolute;left:0;top:'+(h/2+1.5)+'px;width:'+w+'px;height:1px;background:#222"></div>'+
 '<div style="position:absolute;left:'+(w/2-1.5)+'px;top:'+(h/2+0.5)+'px;width:3px;height:3px;border-radius:50%;background:#000"></div>';
 document.body.appendChild(c);}
function legend(title,tx,ty,kx,kys,lx,cats,colors,fs,kw,kh){
  if(title) txt(title,tx,ty+0.35*8.5,8.5);
  kys.forEach((cy,i)=>{key(kx,cy,kw,kh,colors[i]);txt(cats[i],lx,cy+0.35*fs,fs,{c:'#222'});});
}

// panel letters
txt('a',3,18,19,{b:true});
txt('b',3,605,19,{b:true});
txt('c',3,1192,19,{b:true});

// a1
vtxt('ESAT6',33,127,8.5,{b:true}); txt('Group',176,265,8,{b:true,center:true});
legend('Group',311,102,312,[118,132,146],328,CATS3,COL_A,7.5,12,8);
txt('All patients',292,237,14,{sx:0.9}); txt('<i>P</i> &lt; 0.01',309,255,12);
// a2
vtxt('CFP10',381,124,8.5,{b:true}); txt('Group',521,264,8,{b:true,center:true});
legend('Group',656,102,657,[118,132,146],673,CATS3,COL_A,7.5,12,8);
txt('All patients',637,237,14,{sx:0.9}); txt('<i>P</i> &lt; 0.01',656,255,12);
// a3
vtxt('ESAT6',33,405,8.5,{b:true}); txt('Group',180,544,8,{b:true,center:true});
legend('Group',319,389,321,[404,417],337,CATS2,COL_A2,7.5,12,8);
txt('IGRA positive',277,519,14,{sx:0.88}); txt('<i>P</i> &lt; 0.01',307,542,12);
// a4
vtxt('CFP10',379,407,8.5,{b:true}); txt('Group',524,544,8,{b:true,center:true});
legend('Group',664,389,666,[404,418],683,CATS2,COL_A2,7.5,12,8);
txt('IGRA positive',623,519,14,{sx:0.88}); txt('<i>P</i> &lt; 0.01',656,542,12);
// b1
vtxt('ESAT6',33,712,8.5,{b:true}); txt('Group',177,850,8,{b:true,center:true});
legend('Group',310,687,312,[702,716,731],328,CATS3,COL_B,7.5,12,8);
txt('All patients',293,824,14,{sx:0.9}); txt('<i>P</i> &lt; 0.01',311,848,12);
// b2
vtxt('CFP10',379,710,8.5,{b:true}); txt('Group',521,850,8,{b:true,center:true});
legend('Group',656,687,658,[702,716,731],673,CATS3,COL_B,7.5,12,8);
txt('All patients',637,824,14,{sx:0.9}); txt('<i>P</i> &lt; 0.01',654,847,12);
// b3
vtxt('ESAT6',34,990,8.5,{b:true}); txt('Group',182,1130,8,{b:true,center:true});
legend('Group',319,974,321,[990,1003],337,CATS2,COL_B2,7.5,12,8);
txt('IGRA positive',278,1108,14,{sx:0.88}); txt('<i>P</i> &lt; 0.05',311,1128,12);
// b4
vtxt('CFP10',379,990,8.5,{b:true}); txt('Group',524,1130,8,{b:true,center:true});
legend('Group',663,974,664,[990,1004],677,CATS2,COL_B2,7.5,12,8);
txt('IGRA positive',622,1108,14,{sx:0.88}); txt('<i>P</i> = 0.21',651,1128,12);
// c1
vtxt('TB1 Antigen',38,1320,13);
legend(null,0,0,302,[1287,1301,1316],315,CATS3,COL_C,11,10,7);
txt('All patients',293,1415,14,{sx:0.9}); txt('<i>p</i> = 0.32',312,1437,12);
// c2
vtxt('TB2 Antigen',383,1318,13);
legend(null,0,0,646,[1287,1302,1316],665,CATS3,COL_C,11,10,7);
txt('All patients',637,1416,14,{sx:0.9}); txt('<i>p</i> = 0.43',657,1437,12);
// c3
vtxt('TB1 Antigen',38,1583,13);
legend(null,0,0,312,[1575,1589],330,CATS2,COL_C2,11,11,7);
txt('IGRA positive',277,1697,14,{sx:0.88}); txt('<i>p</i> &lt; 0.01',312,1718,12);
// c4
vtxt('TB2 Antigen',382,1583,13);
legend(null,0,0,656,[1573,1588],673,CATS2,COL_C2,11,11,7);
txt('IGRA positive',622,1697,14,{sx:0.88}); txt('<i>p</i> &lt; 0.01',656,1716,12);
</script>
</body></html>
